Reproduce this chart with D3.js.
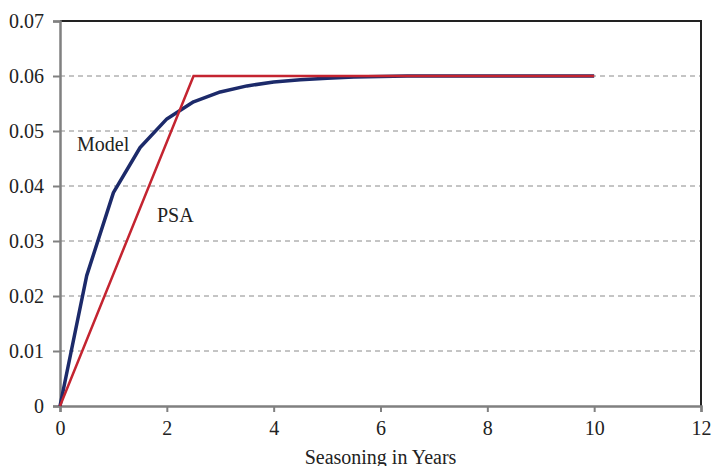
<!DOCTYPE html>
<html>
<head>
<meta charset="utf-8">
<script src="https://cdn.jsdelivr.net/npm/d3@7"></script>
</head>
<body style="margin:0">
<div id="chart"></div>
<script>
// Seasoning curves: model vs PSA benchmark
const years = [0, 0.5, 1, 1.5, 2, 2.5, 3, 3.5, 4, 4.5, 5, 5.5, 6, 6.5, 7, 7.5, 8, 8.5, 9, 9.5, 10];
const modelValues = [0, 0.0237, 0.0388, 0.0470, 0.0522, 0.0553, 0.0571, 0.0582, 0.0589, 0.0593, 0.0596, 0.0598, 0.0599, 0.06, 0.06, 0.06, 0.06, 0.06, 0.06, 0.06, 0.06];
const psaYears = [0, 2.5, 10];
const psaValues = [0, 0.06, 0.06];
const xTicks = [0, 2, 4, 6, 8, 10, 12];
const yTicks = [0, 0.01, 0.02, 0.03, 0.04, 0.05, 0.06, 0.07];

const width = 713;
const height = 466;
const margin = { top: 21, right: 12, bottom: 60, left: 60 };
const serif = "Liberation Serif";
const fontSize = 20;

const x = d3.scaleLinear().domain([0, 12]).range([margin.left, width - margin.right]);
const y = d3.scaleLinear().domain([0, 0.07]).range([height - margin.bottom, margin.top]);

const svg = d3.select("#chart").append("svg")
    .attr("width", width)
    .attr("height", height);

// grid
svg.append("g")
    .selectAll("line")
    .data(yTicks.filter(t => t > 0 && t < 0.07))
    .join("line")
    .attr("x1", x(0))
    .attr("x2", x(12))
    .attr("y1", d => y(d))
    .attr("y2", d => y(d))
    .attr("stroke", "#8a8a8a")
    .attr("stroke-width", 1)
    .attr("stroke-dasharray", "5,4");

// top and right border
svg.append("path")
    .attr("d", `M${x(0)},${y(0.07)}H${x(12)}V${y(0)}`)
    .attr("fill", "none")
    .attr("stroke", "#222")
    .attr("stroke-width", 2);

const yAxis = svg.append("g")
    .attr("transform", `translate(${x(0)},0)`)
    .call(d3.axisLeft(y).tickValues(yTicks).tickSize(7).tickPadding(9)
        .tickFormat(d => d === 0 ? "0" : d3.format(".2f")(d)));

const xAxis = svg.append("g")
    .attr("transform", `translate(0,${y(0)})`)
    .call(d3.axisBottom(x).tickValues(xTicks).tickSize(6).tickPadding(9));

[xAxis, yAxis].forEach(g => {
    g.attr("font-family", serif).attr("font-size", fontSize);
    g.select(".domain").attr("stroke", "#808080").attr("stroke-width", 2.5);
    g.selectAll(".tick line").attr("stroke", "#808080").attr("stroke-width", 2);
    g.selectAll(".tick text")
        .attr("font-family", serif)
        .attr("font-size", fontSize)
        .attr("fill", "#222");
});

const line = d3.line().x(d => x(d[0])).y(d => y(d[1]));

svg.append("path")
    .datum(years.map((t, i) => [t, modelValues[i]]))
    .attr("d", line)
    .attr("fill", "none")
    .attr("stroke", "#1c2a6a")
    .attr("stroke-width", 3.5)
    .attr("stroke-linejoin", "round");

svg.append("path")
    .datum(psaYears.map((t, i) => [t, psaValues[i]]))
    .attr("d", line)
    .attr("fill", "none")
    .attr("stroke", "#c42430")
    .attr("stroke-width", 2.5);

const label = (tx, ty, s, anchor) => svg.append("text")
    .attr("x", tx)
    .attr("y", ty)
    .attr("text-anchor", anchor || "start")
    .attr("font-family", serif)
    .attr("font-size", fontSize)
    .attr("fill", "#222")
    .text(s);

label(77, 151, "Model");
label(157, 222, "PSA");
label((x(0) + x(12)) / 2, 464, "Seasoning in Years", "middle");
</script>
</body>
</html>
